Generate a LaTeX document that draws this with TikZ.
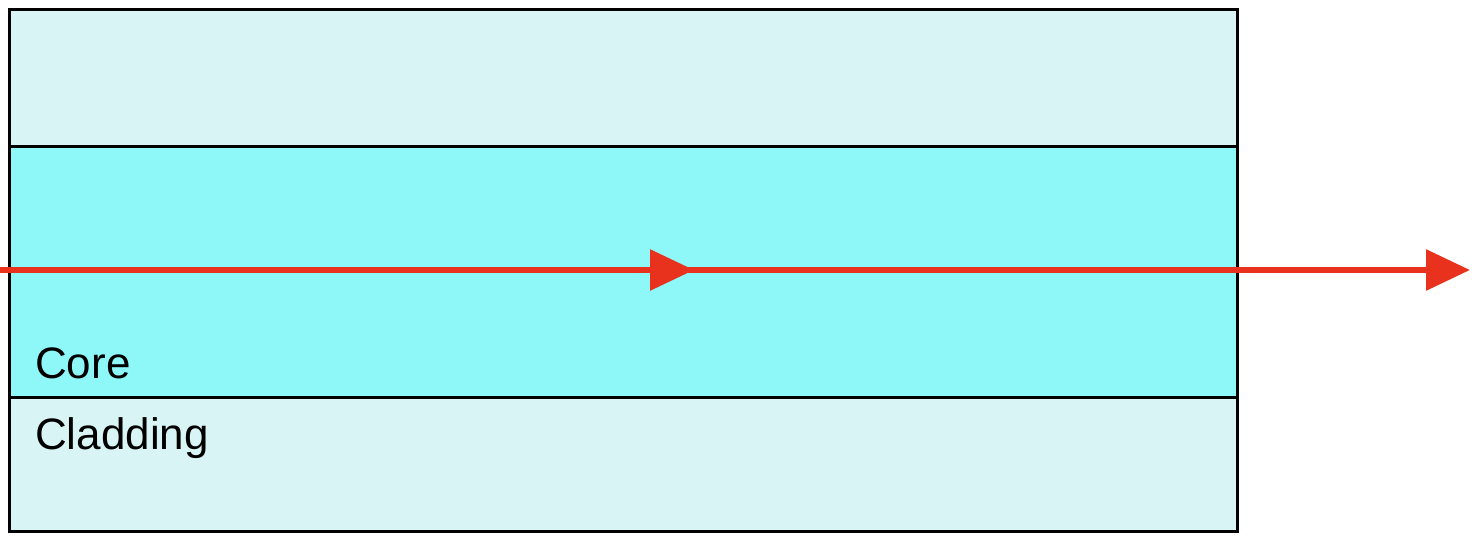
\documentclass[tikz,border=0pt]{standalone}
\usepackage{fontspec}
\setmainfont{Liberation Sans}
\usetikzlibrary{arrows.meta}
\definecolor{clad}{HTML}{D8F4F4}
\definecolor{corec}{HTML}{8EF8F8}
\definecolor{ray}{HTML}{E8321E}
\tikzset{
  layer/.style={draw=black, line width=3pt},
  rayline/.style={draw=ray, line width=6pt},
  raytip/.style={-{Triangle[length=44pt,width=40pt]}},
  lbl/.style={font=\fontsize{44}{44}\selectfont, anchor=base west, inner sep=0pt}
}
\begin{document}
\begin{tikzpicture}[x=1pt,y=-1pt]
\useasboundingbox (0,0) rectangle (1484,542);
\fill[white] (0,0) rectangle (1484,542);
% layers
\filldraw[layer, fill=clad] (9,9) rectangle (1237,531);
\filldraw[layer, fill=corec] (9,146) rectangle (1237,397);
% labels
\node[lbl] (core) at (35,378) {Core};
\node[lbl] (clad) at (35,449) {Cladding};
% ray
\coordinate (start) at (0,270);
\coordinate (mid) at (694,270);
\coordinate (end) at (1470,270);
\draw[rayline, raytip] (start) -- (mid);
\draw[rayline, raytip, shorten <=-20pt] (mid) -- (end);
\end{tikzpicture}
\end{document}
